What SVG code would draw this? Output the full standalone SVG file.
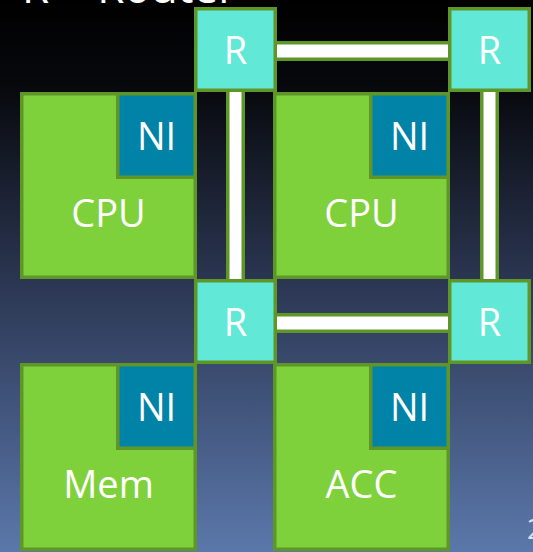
<svg xmlns="http://www.w3.org/2000/svg" width="533" height="552" viewBox="0 0 533 552">
  <defs>
    <linearGradient id="bg" x1="0" y1="0" x2="0" y2="1">
      <stop offset="0" stop-color="#000000"/>
      <stop offset="0.15" stop-color="#07080c"/>
      <stop offset="0.5" stop-color="#2a3550"/>
      <stop offset="1" stop-color="#5b78ab"/>
    </linearGradient>
    <style>
      .core { fill: #7fd13b; stroke: #5e9628; stroke-width: 3.5; }
      .ni { fill: #0083a6; stroke: #5e9628; stroke-width: 3.5; }
      .router { fill: #62e8d7; stroke: #5e9628; stroke-width: 3.5; }
      .link { fill: #ffffff; stroke: #5e9628; stroke-width: 3.5; }
      .lbl { fill: #ffffff; font-family: "Open Sans", "Noto Sans", "DejaVu Sans", sans-serif; font-size: 38px; text-anchor: middle; }
    </style>
  </defs>

  <rect x="0" y="0" width="533" height="552" fill="url(#bg)"/>

  <!-- slide title, mostly above the visible area -->
  <text x="22" y="3" fill="#ffffff" font-family="Open Sans, Noto Sans, sans-serif" font-size="44">R = Router</text>
  <!-- slide number, clipped at the right edge -->
  <text x="527" y="539" fill="#dbe3ef" font-family="Open Sans, Noto Sans, sans-serif" font-size="27">2</text>

  <!-- processing elements with their network interfaces -->
  <g id="cpu1">
    <rect class="core" x="21.75" y="93.75" width="173.5" height="183.5"/>
    <rect class="ni" x="117.75" y="93.75" width="77.5" height="83.5"/>
    <text class="lbl" x="156.5" y="150">NI</text>
    <text class="lbl" x="108.5" y="227">CPU</text>
  </g>
  <g id="cpu2">
    <rect class="core" x="274.75" y="93.75" width="173.5" height="183.5"/>
    <rect class="ni" x="370.75" y="93.75" width="77.5" height="83.5"/>
    <text class="lbl" x="409.5" y="150">NI</text>
    <text class="lbl" x="361.5" y="227">CPU</text>
  </g>
  <g id="mem">
    <rect class="core" x="21.75" y="364.75" width="173.5" height="184.5"/>
    <rect class="ni" x="117.75" y="364.75" width="77.5" height="83.5"/>
    <text class="lbl" x="156.5" y="421">NI</text>
    <text class="lbl" x="108.5" y="498">Mem</text>
  </g>
  <g id="acc">
    <rect class="core" x="274.75" y="364.75" width="173.5" height="184.5"/>
    <rect class="ni" x="370.75" y="364.75" width="77.5" height="83.5"/>
    <text class="lbl" x="409.5" y="421">NI</text>
    <text class="lbl" x="361.5" y="498">ACC</text>
  </g>

  <!-- router-to-router links -->
  <g id="links">
    <rect class="link" x="270" y="42.75" width="185" height="16.5"/>
    <rect class="link" x="270" y="314.75" width="185" height="16.5"/>
    <rect class="link" x="227.75" y="85" width="15.5" height="200"/>
    <rect class="link" x="481.75" y="85" width="15.5" height="200"/>
  </g>

  <!-- routers -->
  <g id="r1">
    <rect class="router" x="195.75" y="8.75" width="79.5" height="81.5"/>
    <text class="lbl" x="235.5" y="64">R</text>
  </g>
  <g id="r2">
    <rect class="router" x="449.75" y="8.75" width="79.5" height="81.5"/>
    <text class="lbl" x="489.5" y="64">R</text>
  </g>
  <g id="r3">
    <rect class="router" x="195.75" y="280.75" width="79.5" height="81.5"/>
    <text class="lbl" x="235.5" y="336">R</text>
  </g>
  <g id="r4">
    <rect class="router" x="449.75" y="280.75" width="79.5" height="81.5"/>
    <text class="lbl" x="489.5" y="336">R</text>
  </g>
</svg>
